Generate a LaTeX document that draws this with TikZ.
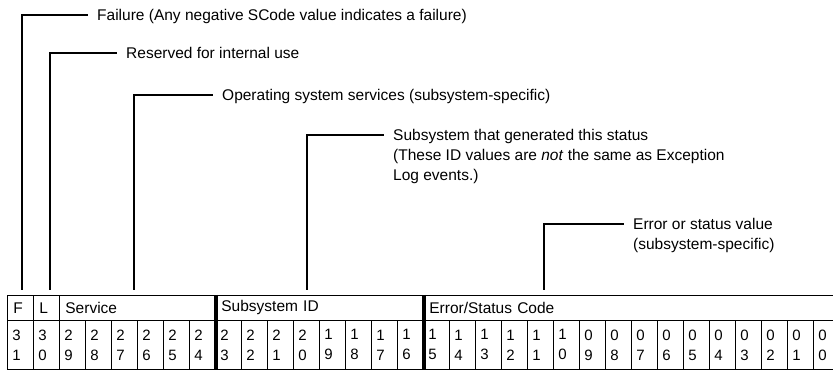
\documentclass[tikz,border=0pt]{standalone}
\usepackage{fontspec}
\setmainfont{Liberation Sans}
\usetikzlibrary{positioning}

\tikzstyle{bitcell}=[rectangle,draw,line width=0.8pt,anchor=north west,minimum width=26pt,minimum height=49pt,text width=16pt,inner xsep=5pt,inner ysep=0pt,align=left,font=\fontsize{15}{20}\selectfont]
\tikzstyle{headcell}=[rectangle,draw,line width=0.8pt,anchor=north west,minimum height=25pt,inner xsep=6pt,inner ysep=0pt,align=left,font=\fontsize{15.5}{18}\selectfont]
\tikzstyle{note}=[anchor=north west,inner sep=0pt,align=left,font=\fontsize{15.5}{20}\selectfont]
\tikzstyle{pin}=[line width=1.1pt,shorten <=5pt,shorten >=9pt]
\tikzstyle{fieldsep}=[line width=3.5pt]

\begin{document}
\begin{tikzpicture}[x=1pt,y=-1pt]
        \useasboundingbox (0,0) rectangle (833,371);

        % header row
        \node[headcell,minimum width=26pt,  text width=14pt]  (fhead)   at (7,295)   {F};
        \node[headcell,minimum width=26pt,  text width=14pt]  (lhead)   at (33,295)  {L};
        \node[headcell,minimum width=156pt, text width=144pt] (svchead) at (59,295)  {Service};
        \node[headcell,minimum width=208pt, text width=196pt] (subhead) at (215,295) {Subsystem ID};
        \node[headcell,minimum width=416pt, text width=404pt] (errhead) at (423,295) {Error/Status Code};

        % bit numbers
        \foreach \i in {0,...,31} {
          \pgfmathtruncatemacro{\bit}{31-\i}
          \pgfmathtruncatemacro{\tens}{int(\bit/10)}
          \pgfmathtruncatemacro{\units}{mod(\bit,10)}
          \node[bitcell] (b\bit) at (7+26*\i,320) {\tens\\\units};
        }

        \draw[fieldsep] (svchead.north east) -- (b24.south east);
        \draw[fieldsep] (subhead.north east) -- (b16.south east);

        % notes
        \node[note] (failnote) at (97,9)   {Failure (Any negative SCode value indicates a failure)};
        \node[note] (resnote)  at (126,47) {Reserved for internal use};
        \node[note] (svcnote)  at (222,89) {Operating system services (subsystem-specific)};
        \node[note] (subnote)  at (393,129) {Subsystem that generated this status\\(These ID values are \textit{not} the same as Exception\\Log events.)};
        \node[note] (errnote)  at (633,218) {Error or status value\\(subsystem-specific)};

        \draw[pin] ([xshift=15pt]fhead.north west)    |- ([yshift=-6pt]failnote.north west);
        \draw[pin] ([xshift=17pt]lhead.north west)    |- ([yshift=-6pt]resnote.north west);
        \draw[pin] ([xshift=75pt]svchead.north west)  |- ([yshift=-6pt]svcnote.north west);
        \draw[pin] ([xshift=92pt]subhead.north west)  |- ([yshift=-6pt]subnote.north west);
        \draw[pin] ([xshift=121pt]errhead.north west) |- ([yshift=-6pt]errnote.north west);
\end{tikzpicture}
\end{document}
